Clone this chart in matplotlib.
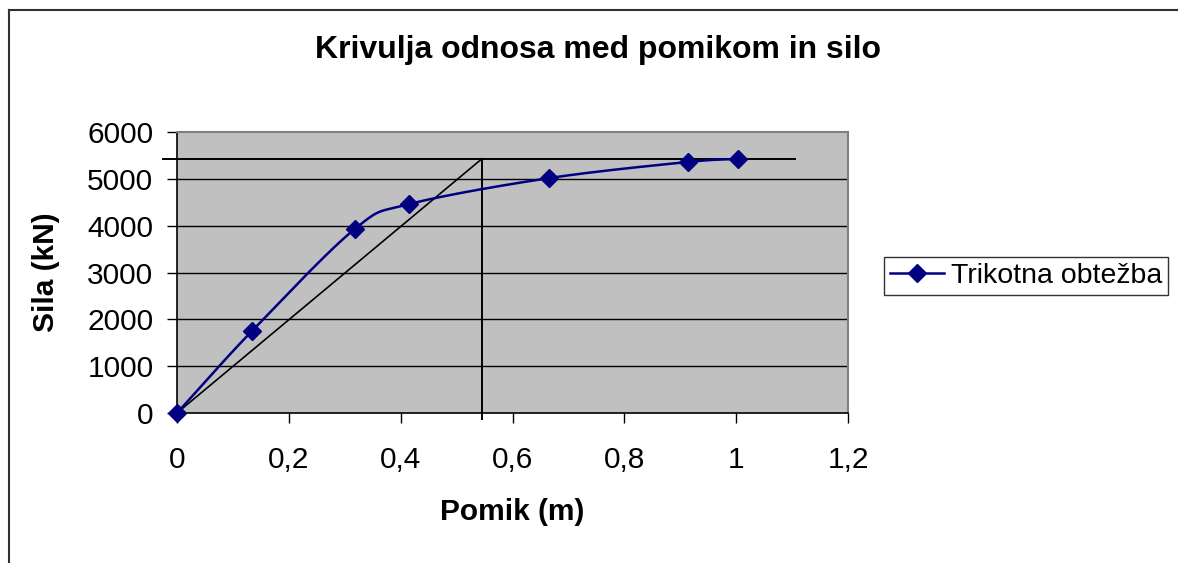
import matplotlib
matplotlib.use('Agg')
import numpy as np
import matplotlib.pyplot as plt
from matplotlib.lines import Line2D

plt.rcParams['font.family'] = ['Liberation Sans', 'DejaVu Sans']

# podatki (odčitani s slike)
pomik = [0.0, 0.134, 0.318, 0.415, 0.665, 0.914, 1.003]
sila = [0, 1750, 3930, 4460, 5015, 5360, 5425]
serija = 'Trikotna obtežba'

# pomožne črte (bilinearna idealizacija)
fy = 5425
uy = 0.545
h_x = [-0.025, 1.105]
v_y = [-130, 5425]

x_ticks = [0, 0.2, 0.4, 0.6, 0.8, 1, 1.2]
x_labels = ['0', '0,2', '0,4', '0,6', '0,8', '1', '1,2']
y_ticks = [0, 1000, 2000, 3000, 4000, 5000, 6000]


def catmull_rom(x, y, n=40):
    '''
    gladka krivulja skozi točke (kot "smoothed line" v Excelu)
    '''
    p = np.c_[x, y].astype(float)
    p = np.vstack([2*p[0] - p[1], p, 2*p[-1] - p[-2]])
    out = []
    for i in range(1, len(p) - 2):
        p0, p1, p2, p3 = p[i-1], p[i], p[i+1], p[i+2]
        t = np.linspace(0, 1, n)[:, None]
        c = 0.5*((2*p1) + (-p0 + p2)*t + (2*p0 - 5*p1 + 4*p2 - p3)*t**2
                 + (-p0 + 3*p1 - 3*p2 + p3)*t**3)
        out.append(c)
    out = np.vstack(out)
    return out[:, 0], out[:, 1]


fig = plt.figure(figsize=(11.78, 5.63), dpi=100)
ax = fig.add_axes([177/1178, 1-413/563, 671/1178, 281/563])
ax.set_facecolor('#C0C0C0')

# okvir grafikona
fig.add_artist(Line2D([9/1178, 9/1178], [0, 1-10/563], color='#303030', lw=1.5,
                      transform=fig.transFigure))
fig.add_artist(Line2D([9/1178, 1], [1-10/563, 1-10/563], color='#303030', lw=1.5,
                      transform=fig.transFigure))

for yy in y_ticks[1:-1]:
    ax.axhline(yy, color='black', lw=1, zorder=1)

# idealizacija
ax.plot(h_x, [fy, fy], color='black', lw=1.4, clip_on=False, zorder=3)
ax.plot([uy, uy], v_y, color='black', lw=1.4, clip_on=False, zorder=3)
ax.plot([0, uy], [0, fy], color='black', lw=1.2, clip_on=False, zorder=3)

xs, ys = catmull_rom(pomik, sila)
ax.plot(xs, ys, color='#000080', lw=1.8, zorder=4, clip_on=False)
ax.plot(pomik, sila, 'D', color='#000080', ms=9, zorder=5, clip_on=False)
h = Line2D([], [], color='#000080', lw=1.8, marker='D', ms=9)

ax.set_xlim(0, 1.2)
ax.set_ylim(0, 6000)
ax.set_xticks(x_ticks)
ax.set_xticklabels(x_labels)
ax.set_yticks(y_ticks)
ax.tick_params(axis='x', direction='out', length=7, width=1, pad=17, labelsize=21.5)
ax.tick_params(axis='y', direction='out', length=7, width=1, pad=10, labelsize=21.5)
for s in ['top', 'right']:
    ax.spines[s].set_color('#808080')
    ax.spines[s].set_linewidth(1.5)
for s in ['left', 'bottom']:
    ax.spines[s].set_color('black')
    ax.spines[s].set_linewidth(1.2)

fig.text(598/1178, 1-50/563, 'Krivulja odnosa med pomikom in silo', ha='center',
         va='center', fontsize=23, fontweight='bold')
fig.text(512/1178, 1-512/563, 'Pomik (m)', ha='center', va='center',
         fontsize=21.5, fontweight='bold')
fig.text(46/1178, 1-272/563, 'Sila (kN)', ha='center', va='center',
         fontsize=21.5, fontweight='bold', rotation=90)

leg = fig.legend([h], [serija], loc='center left',
                 bbox_to_anchor=(884/1178, 1-276/563), fontsize=20.5,
                 frameon=True, fancybox=False, borderpad=0.2,
                 handlelength=1.9, handletextpad=0.25, borderaxespad=0)
leg.get_frame().set_edgecolor('black')
leg.get_frame().set_linewidth(1)

fig.savefig('out.png', dpi=100)
